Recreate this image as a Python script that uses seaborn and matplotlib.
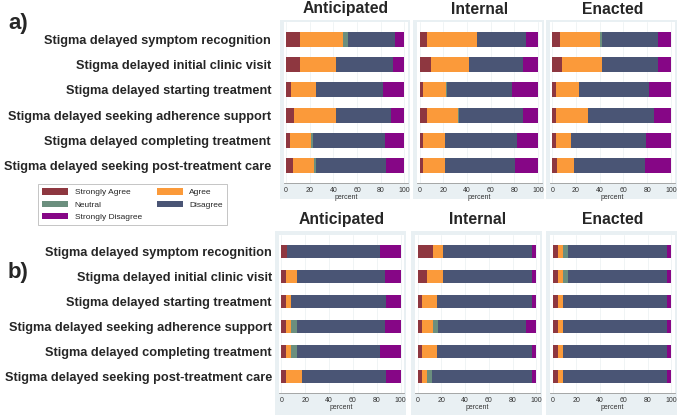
import numpy as np
import pandas as pd
import matplotlib
matplotlib.use("Agg")
import matplotlib.pyplot as plt
from matplotlib.patches import Patch, Rectangle
import seaborn as sns

sns.set_style("white")
plt.rcParams['font.family'] = ['Liberation Sans', 'DejaVu Sans']

items = ["Stigma delayed symptom recognition",
         "Stigma delayed initial clinic visit",
         "Stigma delayed starting treatment",
         "Stigma delayed seeking adherence support",
         "Stigma delayed completing treatment",
         "Stigma delayed seeking post-treatment care"]
cats = ["Strongly Agree", "Agree", "Neutral", "Disagree", "Strongly Disagree"]
colors = ["#8e3740", "#fb9a3a", "#6b8f7e", "#4a5575", "#860686"]
panel_titles = ["Anticipated", "Internal", "Enacted"]

# percent per item: [strongly agree, agree, neutral, disagree, strongly disagree]
a_anticipated = [[11.5, 36.5, 4, 40, 8],
                 [12, 30, 0, 48, 10],
                 [4, 21.5, 0, 56.5, 18],
                 [7, 35, 0.5, 46.5, 11],
                 [3, 18.5, 1.5, 60.5, 16.5],
                 [6, 17.5, 1.5, 59.5, 15.5]]
a_internal = [[6.5, 42, 0, 41.5, 10],
              [10, 32, 0, 45, 13],
              [2.5, 20, 0.5, 55, 22],
              [6.5, 25.5, 1, 54, 13],
              [2.5, 18.5, 0, 61.5, 17.5],
              [2.5, 18.5, 0, 59.5, 19.5]]
a_enacted = [[6.5, 33.5, 1.5, 47.5, 11],
             [8, 34, 0, 47, 11],
             [3, 19.5, 0, 59, 18.5],
             [3, 27, 0.5, 55.5, 14],
             [3, 12.5, 0.5, 63, 21],
             [4, 14.5, 0, 60, 21.5]]
b_anticipated = [[4.5, 0, 0, 78, 17.5],
                 [4, 9, 0, 74, 13],
                 [4, 4, 0, 79.5, 12.5],
                 [4, 4.5, 4.5, 74, 13],
                 [4, 4.5, 4.5, 69.5, 17.5],
                 [4, 13, 0, 70.5, 12.5]]
b_internal = [[13, 8.5, 0, 74.5, 4],
              [8, 13, 0, 75, 4],
              [4, 12.5, 0, 79.5, 4],
              [4, 9, 4, 74, 9],
              [4, 12.5, 0, 79.5, 4],
              [4, 4, 4.5, 83.5, 4]]
b_enacted = [[4.5, 4, 4, 84, 3.5],
             [4.5, 4, 4.5, 83, 4],
             [4.5, 4, 0, 88, 3.5],
             [4.5, 4, 0, 88, 3.5],
             [4.5, 4, 0, 88, 3.5],
             [4.5, 4, 0, 88, 3.5]]

W, H = 684, 415
fig = plt.figure(figsize=(W / 100, H / 100), dpi=100)
fig.patch.set_facecolor("white")

def rect(l, t, r, b):
    return [l / W, 1 - b / H, (r - l) / W, (b - t) / H]

# axes boxes in pixels (left, top, right, bottom)
rows = [
    dict(data=[a_anticipated, a_internal, a_enacted],
         boxes=[(283.6, 22, 408, 183), (417.3, 22, 541.5, 183), (549.9, 22, 674.5, 183)],
         bg=(20, 199), barw=0.59, pad=9, tag="a)", tag_y=24, title_y=9),
    dict(data=[b_anticipated, b_internal, b_enacted],
         boxes=[(278.9, 235, 404.3, 393), (415.3, 235, 539.8, 393), (550.3, 235, 674.9, 393)],
         bg=(231, 415), barw=0.53, pad=5, tag="b)", tag_y=272, title_y=219),
]

for row in rows:
    for j, (vals, box) in enumerate(zip(row["data"], row["boxes"])):
        l, t, r, b = box
        fig.patches.append(Rectangle(((l - 4) / W, 1 - row["bg"][1] / H),
                                     (r - l + 6) / W, (row["bg"][1] - row["bg"][0]) / H,
                                     transform=fig.transFigure, facecolor="#e9f0f3",
                                     edgecolor="none", zorder=-10))
        ax = fig.add_axes(rect(*box))
        ax.set_facecolor("white")
        df = pd.DataFrame(vals, columns=cats)
        df["item"] = items
        cum = df[cats].cumsum(axis=1)
        for k in range(len(cats) - 1, -1, -1):
            sns.barplot(x=cum[cats[k]], y=df["item"], color=colors[k], orient="h",
                        width=row["barw"], saturation=1, errorbar=None,
                        linewidth=0, ax=ax)
        ax.set_xlim(-2, 103)
        ax.set_ylim(5.67, -0.67)
        ax.set_xticks([0, 20, 40, 60, 80, 100])
        ax.grid(axis="x", color="#eef2f4", linewidth=0.6)
        ax.set_axisbelow(True)
        for s in ["top", "right", "left"]:
            ax.spines[s].set_visible(False)
        ax.spines["bottom"].set_color("#9a9a9a")
        ax.spines["bottom"].set_linewidth(0.6)
        ax.tick_params(axis="x", length=2, width=0.5, color="#9a9a9a",
                       labelsize=5, pad=1, labelcolor="#333333")
        ax.tick_params(axis="y", length=0, pad=row["pad"])
        ax.set_xlabel("percent", fontsize=5, labelpad=0, color="#333333")
        ax.set_ylabel("")
        if j == 0:
            ax.set_yticks(range(len(items)))
            ax.set_yticklabels(items, fontsize=9.2, fontweight="bold")
        else:
            ax.set_yticklabels([])
        fig.text((l + r) / 2 / W, 1 - row["title_y"] / H, panel_titles[j],
                 ha="center", va="center", fontsize=11.3, fontweight="bold")
    fig.text(8 / W, 1 - row["tag_y"] / H, row["tag"], ha="left", va="center",
             fontsize=16, fontweight="bold")

order = [0, 2, 4, 1, 3]
handles = [Patch(facecolor=colors[i], edgecolor="none", label=cats[i]) for i in order]
leg = fig.legend(handles=handles, ncol=2, loc="upper left",
                 bbox_to_anchor=(34 / W, 1 - 180 / H), fontsize=6,
                 frameon=True, fancybox=False, handlelength=3.1, handleheight=0.8,
                 columnspacing=1.8, labelspacing=0.5, borderpad=0.5,
                 handletextpad=0.8)
leg.get_frame().set_edgecolor("#aaaaaa")
leg.get_frame().set_linewidth(0.6)

fig.savefig("out.png", dpi=100)
